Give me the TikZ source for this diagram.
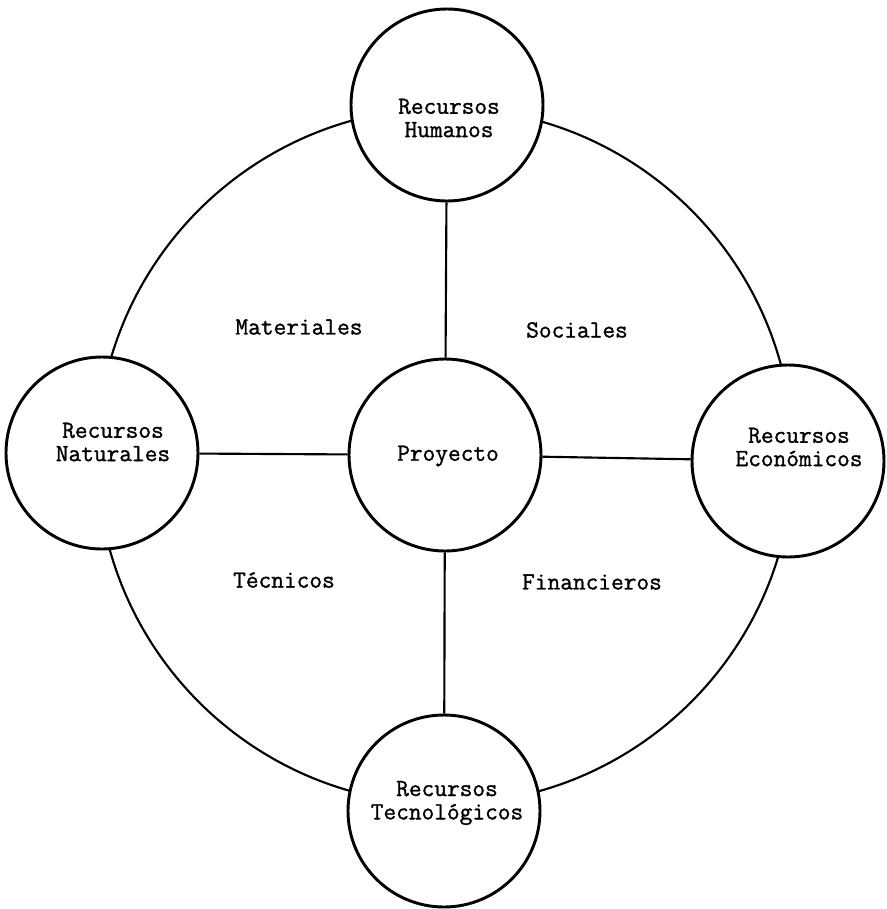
\documentclass[tikz,border=0pt]{standalone}
\usepackage{fontspec}
\newfontfamily\twfont{Latin Modern Mono}[FakeBold=1.2]
\begin{document}
\begin{tikzpicture}[x=0.75pt,y=-0.75pt,
  res/.style={circle,draw=black,line width=2.2pt,fill=white,minimum size=144pt,inner sep=0pt},
  arcline/.style={draw=black,line width=1.6pt},
  spoke/.style={draw=black,line width=1.6pt},
  txt/.style={align=center,inner sep=0pt,font=\twfont\fontsize{18.5}{17.5}\selectfont}]
\useasboundingbox (0,0) rectangle (887,909);
\draw[arcline] (445,456) circle[radius=348];
\node[res] (H) at (447,105) {};
\node[res] (N) at (102,453) {};
\node[res] (P) at (445,455) {};
\node[res] (E) at (788,461) {};
\node[res] (T) at (444,811) {};
\draw[spoke] (H) -- (P);
\draw[spoke] (N) -- (P);
\draw[spoke] (P) -- (E);
\draw[spoke] (P) -- (T);
\node[txt] (tH) at (449,118) {Recursos\\Humanos};
\node[txt] (tN) at (113,442) {Recursos\\Naturales};
\node[txt] (tP) at (448,456) {Proyecto};
\node[txt] (tE) at (799,447) {Recursos\\Económicos};
\node[txt] (tT) at (447,803) {Recursos\\Tecnológicos};
\node[txt] (lM) at (299,327) {Materiales};
\node[txt] (lS) at (577,330) {Sociales};
\node[txt] (lT) at (284,580) {Técnicos};
\node[txt] (lF) at (592,582) {Financieros};
\end{tikzpicture}
\end{document}
